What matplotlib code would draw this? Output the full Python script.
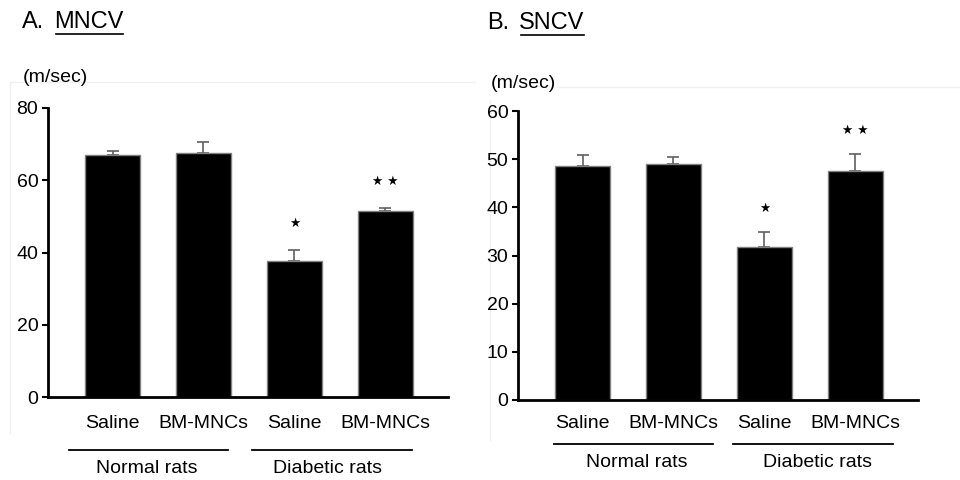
import matplotlib
matplotlib.use("Agg")
import matplotlib.pyplot as plt
from matplotlib.lines import Line2D

plt.rcParams['font.family'] = ['Liberation Sans', 'DejaVu Sans']

categories = ["Saline", "BM-MNCs", "Saline", "BM-MNCs"]
groups = ["Normal rats", "Diabetic rats"]

mncv = [67.0, 67.6, 37.7, 51.5]
mncv_err = [1.1, 3.0, 3.0, 0.8]

sncv = [48.5, 49.0, 31.8, 47.6]
sncv_err = [2.3, 1.4, 3.0, 3.4]

# significance marks: bar index -> label
marks = {2: "\u2605", 3: "\u2605 \u2605"}


def panel(fig, rect, values, errs, ymax, step, title_letter, title_word,
          title_xy, unit_xy, grp_y, grp_lines, grp_label_x, lab_pad, star_off):
    ax = fig.add_axes(rect)
    x = list(range(len(values)))
    ax.bar(x, values, width=0.6, color="black", edgecolor="#808080",
           linewidth=1, zorder=2)
    ax.errorbar(x, values, yerr=[[0] * len(errs), errs], fmt="none",
                ecolor="#606060", elinewidth=1.2, capsize=4.5, capthick=1.2,
                zorder=1)
    ax.set_xlim(-0.71, 3.69)
    ax.set_ylim(0, ymax)
    ax.set_yticks(range(0, ymax + 1, step))
    ax.set_xticks(x)
    ax.set_xticklabels(categories, fontsize=14)
    ax.tick_params(axis="x", length=0, pad=lab_pad)
    ax.tick_params(axis="y", length=4, width=1.5, pad=3, labelsize=14,
                   direction="out")
    for s in ["top", "right"]:
        ax.spines[s].set_visible(False)
    ax.spines["left"].set_linewidth(2)
    ax.spines["bottom"].set_linewidth(2)
    ax.patch.set_alpha(0)

    for i, m in marks.items():
        ax.annotate(m, (i, values[i] + errs[i]), xytext=(0, star_off),
                    textcoords="offset points", ha="center", va="center",
                    fontsize=9, family="DejaVu Sans")

    tr = ax.get_xaxis_transform()
    for (x0, x1), lx, g in zip(grp_lines, grp_label_x, groups):
        ax.add_line(Line2D([x0, x1], [grp_y, grp_y], transform=tr,
                           color="black", linewidth=1.3, clip_on=False))
        ax.text(lx, grp_y - 0.065, g, transform=tr, ha="center", va="center",
                fontsize=14)

    fig.text(unit_xy[0] / 960, 1 - unit_xy[1] / 480, "(m/sec)",
             fontsize=14, ha="left", va="center")
    t1 = fig.text(title_xy[0] / 960, 1 - title_xy[1] / 480, title_letter,
                  fontsize=17, ha="left", va="baseline")
    fig.canvas.draw()
    bb = t1.get_window_extent()
    t2 = fig.text((bb.x1 + 10) / 960, 1 - title_xy[1] / 480, title_word,
                  fontsize=17, ha="left", va="baseline")
    fig.canvas.draw()
    bb2 = t2.get_window_extent()
    uy = (bb2.y0 - 1) / 480
    fig.add_artist(Line2D([(bb2.x0 + 2) / 960, (bb2.x1 - 1) / 960], [uy, uy],
                          color="black", linewidth=1.2))
    return ax


fig = plt.figure(figsize=(9.6, 4.8), dpi=100)

# faint frame lines around each panel
frame = "#f0f0f0"
for xs, ys in [((10, 475), (82, 82)), ((10, 10), (82, 433)),
               ((557, 960), (87, 87)), ((490, 490), (100, 440))]:
    fig.add_artist(Line2D([v / 960 for v in xs], [1 - v / 480 for v in ys],
                          color=frame, linewidth=1, zorder=0))

panel(fig, [48 / 960, 1 - 397 / 480, 400 / 960, 289 / 480], mncv, mncv_err,
      80, 20, "A.", "MNCV", (22, 28), (23, 78), -0.183,
      [(-0.48, 1.27), (1.53, 3.29)], [0.38, 2.36], 13, 19)

panel(fig, [518 / 960, 1 - 400 / 480, 400 / 960, 289 / 480], sncv, sncv_err,
      60, 10, "B.", "SNCV", (487, 29), (491, 83), -0.152,
      [(-0.31, 1.44), (1.66, 3.42)], [0.6, 2.58], 11, 17)

fig.savefig("out.png", dpi=100)
